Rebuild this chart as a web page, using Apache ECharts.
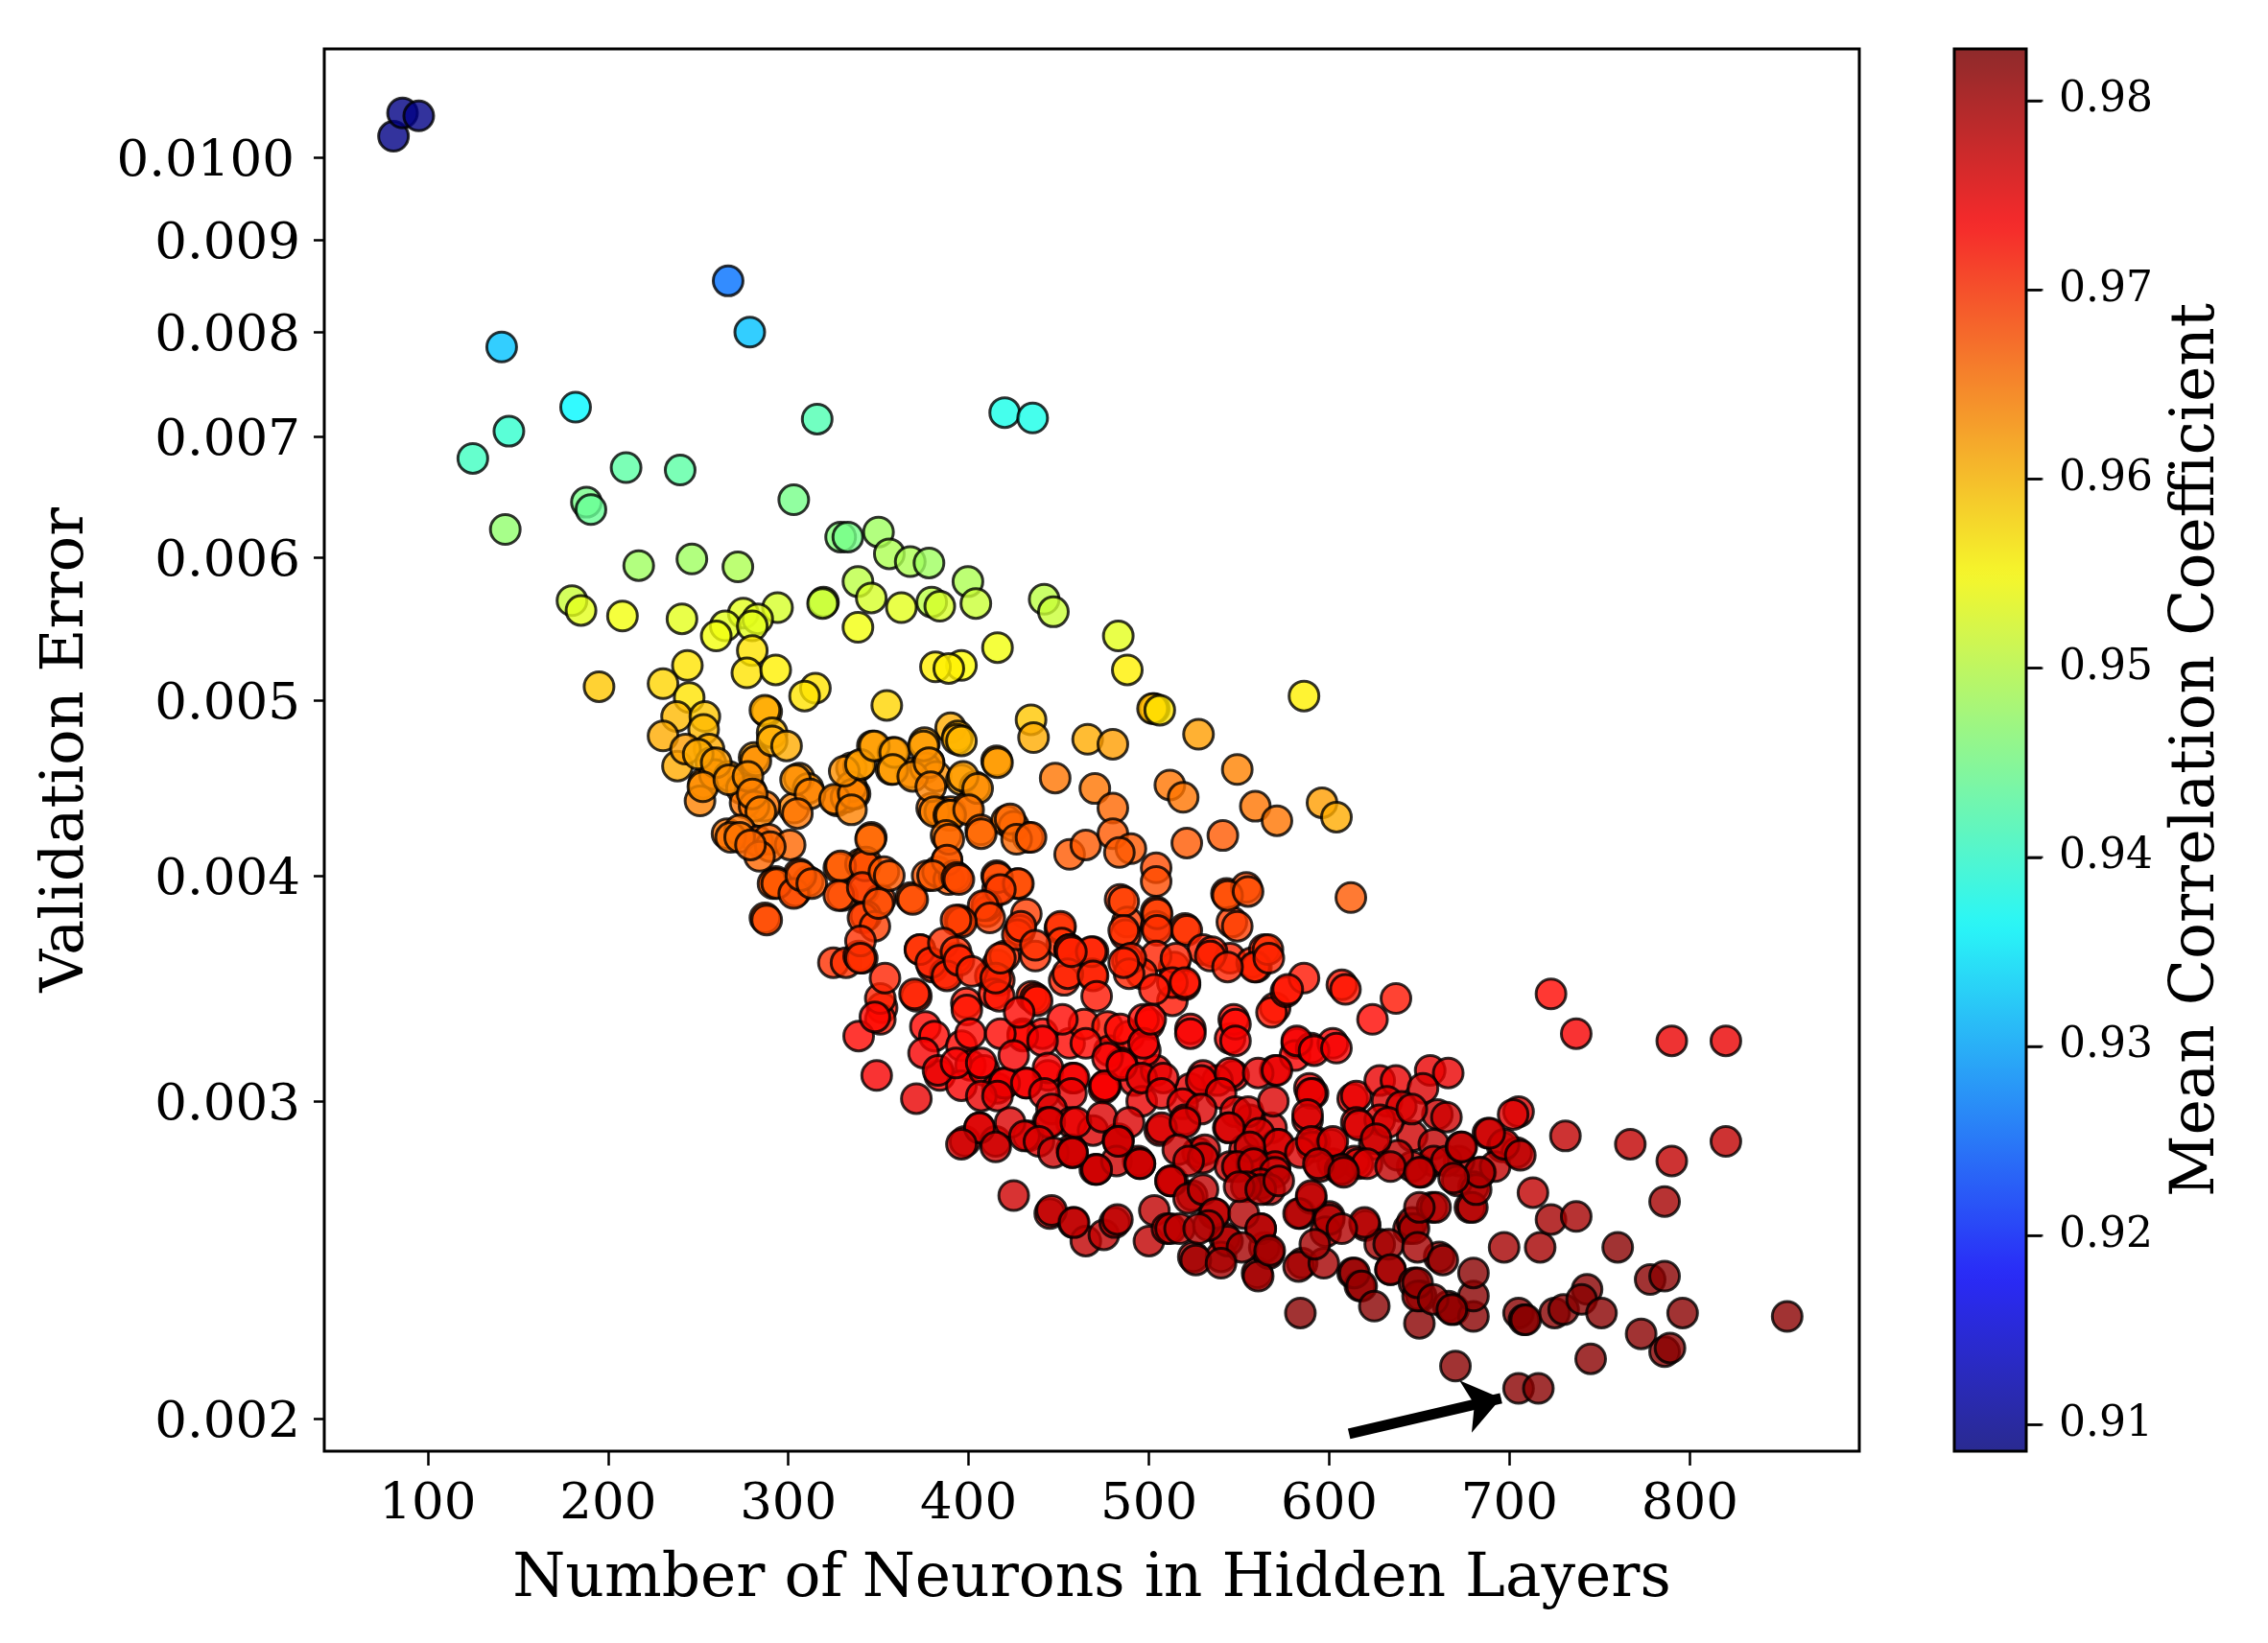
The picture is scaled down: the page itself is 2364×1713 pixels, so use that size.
<!DOCTYPE html>
<html><head><meta charset="utf-8">
<style>html,body{margin:0;padding:0;background:#fff}#c{width:2364px;height:1713px}</style>
<script src="https://cdn.jsdelivr.net/npm/echarts@6/dist/echarts.min.js"></script>
</head><body><div id="c"></div>
<script>
// every point: [neurons, validation error x 1000, mean correlation coefficient]
const sparseTop = [[81,10.27,.909],[86,10.58,.909],[95,10.54,.909],[266.6,8.54,.926],[278.6,8.0,.932],[141,7.85,.932],[182,7.27,.936],[420,7.22,.938],[435.5,7.17,.938],[316,7.16,.942],[145,7.05,.940],[125,6.81,.941],[210,6.73,.943],[240,6.71,.943],[303,6.46,.945],[188,6.44,.945],[190.5,6.38,.944],[143,6.22,.947],[329,6.16,.946],[333,6.16,.945],[350,6.2,.948],[356,6.03,.949],[367.6,5.97,.949],[378,5.96,.948],[217,5.94,.948],[246.5,5.99,.948],[272,5.93,.949],[399.6,5.82,.949],[338.6,5.82,.95]];
const greenYellow = [[346,5.70,.952],[379.5,5.67,.95],[384,5.64,.952],[362.7,5.63,.953],[404,5.66,.951],[319.5,5.67,.951],[319,5.66,.951],[441.9,5.69,.95],[447,5.6,.951],[180,5.68,.951],[185,5.61,.953],[208,5.57,.954],[241,5.55,.953],[294,5.63,.952],[275,5.59,.953],[283,5.55,.953],[265,5.5,.953],[260,5.43,.954],[280,5.5,.953],[338.6,5.49,.954],[483,5.43,.953],[416,5.35,.954],[396,5.23,.955],[488,5.2,.956],[381.6,5.22,.956],[389,5.21,.956]];
const yellowBand = [[244,5.23,.957],[280,5.33,.957],[277,5.18,.957],[293,5.2,.956],[195,5.09,.959],[230.5,5.11,.958],[245,5.02,.957],[238,4.9,.96],[253.7,4.9,.959],[253,4.82,.96],[230.5,4.78,.961],[256,4.7,.961],[238.5,4.6,.961],[315,5.08,.957],[309,5.03,.957],[586,5.03,.956],[503,4.95,.96],[502,4.95,.96],[506,4.94,.957],[354.6,4.97,.958],[288,4.93,.961],[287,4.94,.961],[291,4.8,.96],[390,4.83,.961],[394,4.78,.961],[434.6,4.88,.959],[436,4.77,.961],[466,4.76,.961],[480,4.73,.962],[527.5,4.79,.962]];
const amberBand = [[281,4.65,.962],[346.6,4.72,.962],[358,4.68,.962],[375.5,4.74,.962],[378,4.62,.962],[335,4.59,.963],[339,4.6,.962],[415.5,4.63,.963],[368,4.56,.963],[357,4.58,.963],[376,4.59,.963],[382,4.54,.963],[396,4.52,.962],[403.5,4.48,.964],[306,4.53,.963],[311,4.47,.963],[303,4.36,.964],[448,4.53,.965],[470,4.47,.965],[511.6,4.49,.965],[519,4.42,.965],[549,4.58,.964],[559,4.37,.965],[571,4.29,.965],[596,4.39,.962],[604,4.31,.961],[480,4.36,.966],[327,4.4,.964],[332,4.42,.964],[337,4.44,.964],[335,4.48,.963],[379.5,4.36,.965],[384,4.34,.965],[390,4.34,.965],[399,4.36,.965],[287,4.37,.965],[243,4.7,.962],[257,4.62,.963],[253,4.5,.964],[259,4.55,.964],[267,4.54,.963],[251,4.4,.964],[274,4.47,.964],[279,4.46,.965],[276,4.39,.965],[281,4.37,.965]];
const amberExtra = [[250,4.67,.961],[260,4.62,.962],[252.6,4.48,.963],[267,4.52,.963],[282,4.63,.963],[277.6,4.54,.963],[280,4.44,.964],[284.7,4.34,.964],[291,4.75,.961],[299,4.72,.961],[304,4.52,.963],[312,4.44,.964],[305,4.33,.965],[325.6,4.41,.964],[336,4.44,.964],[335,4.35,.964],[331,4.57,.963],[340,4.61,.962],[347.7,4.72,.962],[359,4.68,.962],[358,4.58,.962],[369,4.54,.963],[375,4.72,.962],[378,4.62,.963],[379,4.48,.964],[381,4.34,.964],[389,4.32,.964],[393.5,4.76,.961],[396,4.75,.96],[416,4.62,.962],[397,4.54,.962],[405,4.47,.963],[390,4.32,.964],[400,4.35,.965]];
const orangeBand = [[266,4.22,.965],[273,4.24,.965],[283,4.18,.966],[289,4.19,.966],[301,4.16,.966],[293,3.97,.967],[291.5,3.96,.967],[304,3.92,.967],[311,3.97,.967],[306,4.01,.967],[287,3.79,.968],[328,4.04,.966],[346,4.2,.966],[340,4.06,.966],[343,4.07,.966],[330,3.9,.967],[342,3.93,.967],[351,3.88,.968],[343,3.8,.968],[368,3.89,.967],[377,4.0,.967],[382.8,4.02,.967],[388,4.08,.966],[387.5,4.21,.965],[389,3.98,.967],[392,4.0,.967],[406.7,4.24,.966],[421,4.29,.965],[425,4.26,.966],[433,4.2,.966],[456,4.11,.967],[465,4.16,.967],[480,4.22,.967],[490,4.14,.967],[483.6,4.12,.967],[504,4.04,.968],[504,3.97,.968],[521,4.17,.967],[541,4.21,.967],[543,3.91,.968],[554,3.94,.968],[612,3.89,.967],[415.5,4.0,.968],[416,3.93,.969],[427,3.96,.968],[484,3.88,.969],[488,3.77,.969],[504,3.82,.969],[504,3.75,.970],[487,3.71,.970],[520,3.74,.969],[546,3.77,.969],[395,3.78,.969],[410,3.82,.969],[410,3.85,.969]];
const orangeExtra = [[268,4.2,.965],[273,4.2,.965],[290,4.15,.966],[284,4.1,.966],[279,4.16,.966],[293.6,3.96,.967],[303,3.91,.968],[307,4.0,.967],[313,3.96,.967],[288,3.78,.968],[329,4.05,.967],[328,3.9,.968],[342.5,4.05,.968],[341,3.94,.969],[345.6,4.19,.966],[353,4.02,.967],[356,4.0,.967],[369,3.88,.968],[341.4,3.79,.969],[348,3.75,.969],[350,3.86,.968],[389,4.19,.966],[388,4.08,.967],[380,4.0,.967],[393.5,3.99,.968],[407,4.22,.966],[423,4.3,.966],[426.6,4.19,.966],[434.6,4.2,.967],[394.6,3.98,.968],[416,3.99,.968],[427.6,3.96,.968],[417.6,3.93,.969],[408,3.85,.969],[411.7,3.79,.969],[396,3.77,.969],[432,3.81,.969],[428.4,3.73,.969],[486,3.87,.969],[486,3.73,.97],[504.6,3.81,.969],[504.6,3.73,.97],[521,3.73,.97],[549,3.75,.969],[543.6,3.9,.968],[555,3.92,.968],[450.6,3.74,.97],[393,3.78,.969]];
const redOrange = [[325,3.58,.970],[332,3.58,.970],[339,3.61,.970],[341,3.6,.970],[352,3.38,.972],[351,3.33,.972],[371,3.43,.971],[370,3.44,.971],[373,3.64,.970],[380,3.56,.971],[387,3.53,.971],[393,3.6,.970],[398.7,3.4,.972],[412,3.52,.971],[416,3.57,.971],[420,3.61,.970],[427,3.71,.970],[429,3.75,.970],[417,3.5,.971],[414,3.44,.972],[435,3.43,.971],[437,3.61,.970],[451,3.75,.970],[451.6,3.67,.970],[456,3.64,.971],[469,3.63,.971],[468.5,3.53,.972],[453,3.5,.971],[513,3.41,.972],[514,3.56,.971],[520,3.48,.972],[504,3.61,.971],[496,3.53,.971],[488,3.59,.971],[530,3.64,.971],[545,3.6,.971],[557,3.58,.971],[564,3.64,.971],[559.6,3.56,.971],[570,3.38,.972],[568,3.36,.972],[576,3.45,.972],[586,3.51,.972],[607,3.48,.972],[609,3.46,.972],[637,3.42,.972],[624,3.33,.973]];
const redOrangeExtra = [[340,3.68,.970],[340,3.6,.970],[373,3.64,.970],[379,3.58,.971],[386,3.67,.970],[393,3.63,.970],[437,3.66,.970],[456,3.64,.971],[468,3.63,.971],[535,3.63,.971],[558.6,3.56,.971],[566,3.64,.970],[515,3.6,.971],[490,3.6,.971],[351,3.42,.971],[353.6,3.51,.971],[388,3.52,.971],[394.6,3.59,.971],[401.7,3.54,.971],[417,3.43,.972],[415,3.51,.971],[417.6,3.6,.970],[437,3.42,.972],[438,3.41,.972],[455,3.53,.971],[457,3.63,.971],[469,3.52,.971],[471,3.43,.972],[489,3.53,.971],[486,3.58,.971],[534,3.61,.971],[543.6,3.56,.971],[566.5,3.6,.971],[577,3.46,.972],[513,3.49,.972],[520,3.49,.972],[503,3.46,.972]];
const pureRed = [[339,3.26,.973],[349,3.1,.974],[371,3.01,.975],[376,3.3,.973],[381,3.26,.973],[384,3.1,.974],[396,3.22,.973],[401,3.14,.974],[396,3.06,.974],[408.6,3.12,.974],[416,3.05,.975],[419.6,3.07,.975],[430,3.27,.973],[441,3.27,.973],[456,3.23,.973],[464,3.31,.972],[477,3.3,.972],[478,3.2,.973],[489,3.26,.973],[500,3.31,.972],[444,3.1,.974],[457.6,3.09,.975],[476,3.06,.974],[475,3.05,.974],[492,3.08,.975],[504,3.12,.975],[498,3.2,.974],[485,3.15,.974],[432,3.07,.975],[523,3.29,.973],[545,3.25,.973],[547,3.33,.973],[547,3.1,.975],[538,3.08,.975],[523,3.05,.975],[530,3.1,.975],[570,3.12,.974],[582,3.23,.974],[581,3.18,.974],[590,3.21,.974],[589,3.05,.975],[591,3.03,.975],[602,3.23,.974],[613,3.01,.975],[615,3.02,.975],[628,3.08,.975],[637,3.08,.975],[656,3.12,.975],[666,3.11,.975],[652,3.05,.976],[723,3.44,.973],[737,3.27,.974],[790,3.24,.975],[820,3.24,.975]];
const pureRedExtra = [[348,3.34,.973],[375,3.19,.974],[383,3.12,.975],[399,3.37,.972],[401,3.27,.973],[393,3.15,.974],[407,3.15,.974],[452,3.33,.973],[484,3.29,.973],[497,3.33,.973],[430,3.26,.973],[441,3.24,.974],[417.6,3.27,.973],[428,3.36,.973],[465,3.23,.973],[477,3.17,.974],[497,3.23,.974],[444,3.13,.974],[458.5,3.09,.974],[475.6,3.06,.974],[420,3.07,.974],[432,3.07,.974],[425,3.18,.974],[485,3.14,.974],[496,3.0,.975],[457,3.03,.975],[442,3.03,.975],[407,3.02,.975],[416,3.02,.975],[501,3.33,.973],[523,3.27,.974],[548,3.31,.973],[548,3.24,.974],[582,3.24,.974],[591.6,3.2,.974],[604,3.21,.974],[529,3.08,.975],[545,3.11,.975],[560.6,3.11,.975],[571,3.12,.975],[590,3.03,.975],[496,3.09,.975],[508,3.09,.975],[507,3.03,.975],[540,3.03,.975],[518.7,2.99,.975]];
const crimson = [[398,2.85,.976],[406,2.9,.976],[415,2.85,.976],[425,2.66,.977],[446,2.97,.976],[457,2.92,.976],[469,2.89,.976],[444,2.92,.976],[433,2.87,.976],[457,2.82,.976],[471,2.75,.977],[483,2.86,.976],[494,2.78,.977],[506,2.89,.976],[445,2.6,.977],[458,2.57,.978],[465,2.51,.978],[475,2.53,.978],[481,2.57,.978],[500,2.51,.978],[503,2.61,.978],[512,2.71,.977],[510,2.55,.978],[524,2.66,.978],[527,2.81,.977],[531,2.82,.977],[520,2.93,.976],[632,3.0,.976],[640,2.98,.976],[660,2.95,.977],[615,2.92,.976],[628,2.93,.976],[646,2.87,.977],[625,2.84,.976],[614,2.78,.977],[616,2.77,.976],[602,2.77,.977],[592,2.85,.976],[588,2.93,.976],[568,2.9,.976],[556,2.93,.976],[548,2.96,.976],[544,2.9,.977],[553,2.82,.977],[557,2.78,.977],[571,2.84,.977],[549.6,2.76,.977],[705,2.96,.976],[702,2.95,.976],[688,2.88,.977],[696,2.83,.978],[704,2.81,.978],[684,2.74,.978],[680,2.69,.978],[692,2.76,.978],[672,2.78,.978],[658,2.84,.978],[658,2.78,.978],[646,2.76,.978],[638,2.8,.978],[767,2.84,.978],[731,2.87,.978],[820,2.85,.978],[790,2.78,.978]];
const crimsonExtra = [[406,2.9,.976],[423,2.92,.976],[445,2.92,.976],[459.5,2.92,.975],[474,2.94,.976],[489,2.92,.976],[396,2.84,.977],[415,2.83,.977],[431,2.87,.976],[439,2.85,.976],[483,2.85,.976],[447,2.81,.977],[457.6,2.81,.976],[470,2.75,.977],[482,2.78,.977],[495,2.77,.977],[529,2.97,.976],[555,2.96,.976],[569,3.0,.976],[588,2.95,.976],[507,2.9,.976],[520,2.92,.976],[544.6,2.9,.976],[561,2.88,.976],[572,2.84,.976],[590.6,2.83,.977],[601,2.84,.977],[616.5,2.91,.976],[632.6,2.92,.976],[645.8,2.97,.976],[665,2.94,.977],[626,2.86,.977],[513,2.71,.977],[516,2.82,.977],[530,2.79,.977],[545,2.76,.977],[557,2.77,.977],[556,2.83,.977],[570,2.76,.977],[584,2.81,.976],[595,2.76,.977],[606,2.75,.977],[621,2.77,.976],[634,2.76,.978],[651,2.74,.978],[665,2.78,.978],[673,2.83,.978],[671,2.71,.978],[522,2.78,.977],[549,2.76,.977],[558,2.77,.977],[570,2.74,.977],[471,2.75,.977],[495,2.77,.977],[457.6,2.81,.977],[483,2.85,.977],[697,2.84,.977],[706,2.8,.978],[689,2.88,.977],[673.5,2.83,.978],[650,2.74,.978],[590,2.85,.976],[602,2.85,.976],[607,2.75,.977],[594,2.77,.977]];
const darkRed = [[524.6,2.46,.98],[562,2.7,.978],[567,2.68,.978],[536,2.6,.978],[542,2.52,.978],[540,2.46,.978],[560,2.41,.98],[564,2.49,.978],[562,2.55,.978],[554,2.69,.978],[584,2.6,.978],[585,2.44,.98],[583,2.43,.98],[600,2.59,.978],[598,2.54,.978],[590,2.65,.978],[608,2.74,.978],[620,2.56,.978],[628,2.5,.98],[634,2.42,.98],[613,2.41,.98],[617,2.37,.98],[644,2.55,.98],[646,2.57,.98],[657,2.62,.978],[661,2.46,.98],[678,2.62,.978],[713,2.67,.978],[697,2.49,.98],[717,2.49,.98],[723,2.58,.98],[737,2.59,.98],[786,2.64,.98],[760,2.49,.982]];
const darkRedExtra = [[512,2.55,.978],[517,2.55,.978],[512,2.71,.977],[522,2.65,.978],[530,2.68,.978],[536.6,2.6,.978],[552.6,2.6,.979],[562,2.55,.979],[566.5,2.47,.98],[543.6,2.51,.979],[551.6,2.49,.98],[526,2.45,.98],[540,2.44,.98],[560.6,2.4,.98],[533,2.56,.979],[527.6,2.55,.979],[550,2.69,.978],[562,2.68,.979],[572,2.71,.978],[647,2.55,.98],[633,2.5,.98],[649,2.49,.98],[663,2.45,.981],[634,2.42,.98],[614,2.41,.981],[618,2.37,.981],[597,2.44,.98],[583,2.6,.979],[600,2.58,.979],[590,2.66,.978],[619.6,2.57,.979],[607,2.55,.979],[592,2.5,.98],[567,2.48,.98],[679.4,2.62,.979],[681.5,2.68,.979],[683.6,2.74,.979],[669,2.72,.979],[659,2.62,.979],[650,2.62,.98],[482.5,2.58,.978],[446,2.61,.978],[458.5,2.57,.978]];
const bottomTail = [[584,2.29,.982],[625,2.31,.982],[650,2.26,.982],[647,2.38,.982],[651,2.34,.982],[666,2.31,.982],[669,2.3,.982],[680,2.28,.982],[680,2.34,.982],[680,2.41,.982],[670,2.14,.982],[705,2.08,.982],[716,2.08,.982],[705,2.29,.982],[708,2.27,.982],[709,2.27,.982],[725,2.29,.982],[730,2.3,.982],[743,2.36,.982],[740,2.33,.982],[751,2.29,.982],[745,2.16,.982],[778,2.39,.982],[786,2.4,.982],[796,2.29,.982],[854,2.28,.982],[773,2.23,.982],[786,2.18,.982],[789,2.19,.982],[649,2.34,.981],[649,2.38,.981],[657.6,2.33,.981],[668,2.3,.981]];
const pointGroups = [sparseTop, greenYellow, yellowBand, amberBand, amberExtra, orangeBand, orangeExtra, redOrange, redOrangeExtra, pureRed, pureRedExtra, crimson, crimsonExtra, darkRed, darkRedExtra, bottomTail];

const xTicks = [100, 200, 300, 400, 500, 600, 700, 800];
const yTicks = [0.002, 0.003, 0.004, 0.005, 0.006, 0.007, 0.008, 0.009, 0.01];
const yTickLabels = ['0.002', '0.003', '0.004', '0.005', '0.006', '0.007', '0.008', '0.009', '0.0100'];
const cTicks = [0.91, 0.92, 0.93, 0.94, 0.95, 0.96, 0.97, 0.98];
const jet = ['#00007f', '#0000ff', '#007fff', '#00ffff', '#7fff7f', '#ffff00', '#ff7f00', '#ff0000', '#7f0000'];
const arrowTail = [611, 0.001963];
const arrowTip = [695.3, 0.002054];

const hexA = h => 'rgba(' + parseInt(h.slice(1,3),16) + ',' + parseInt(h.slice(3,5),16) + ',' + parseInt(h.slice(5,7),16) + ',0.8)';
const points = pointGroups.flat().map(p => [p[0], p[1] / 1000, p[2]]);
const font = 'DejaVu Serif';
const chart = echarts.init(document.getElementById('c'), null, {renderer: 'canvas'});
chart.setOption({
  backgroundColor: '#fff',
  animation: false,
  grid: [
    {left: 338, top: 51, width: 1600, height: 1462, show: true, borderColor: '#000', borderWidth: 3, backgroundColor: 'transparent', containLabel: false},
    {left: 2037, top: 51, width: 75, height: 1462, show: true, borderColor: '#000', borderWidth: 3, backgroundColor: 'transparent', z: 10}
  ],
  xAxis: [
    {type: 'value', gridIndex: 0, min: 42.6, max: 894,
     name: 'Number of Neurons in Hidden Layers', nameLocation: 'middle', nameGap: 103,
     nameTextStyle: {fontFamily: font, fontSize: 63, color: '#000'},
     axisLine: {show: false}, splitLine: {show: false},
     axisTick: {show: true, length: 15, lineStyle: {color: '#000', width: 2.5}, customValues: xTicks},
     axisLabel: {show: true, customValues: xTicks, fontFamily: font, fontSize: 53, color: '#000', margin: 30, showMinLabel: true, showMaxLabel: true}},
    {type: 'value', gridIndex: 1, min: 0, max: 1, show: false}
  ],
  yAxis: [
    {type: 'log', gridIndex: 0, min: 0.00192, max: 0.01148, logBase: 10,
     name: 'Validation Error', nameLocation: 'middle', nameGap: 237,
     nameTextStyle: {fontFamily: font, fontSize: 62, color: '#000'},
     axisLine: {show: false}, splitLine: {show: false}, minorTick: {show: false},
     axisTick: {show: true, length: 11, lineStyle: {color: '#000', width: 2.5}, customValues: yTicks},
     axisLabel: {show: true, customValues: yTicks, fontFamily: font, fontSize: 53, color: '#000', margin: 25, padding: [10, 0, 0, 0],
       rich: {big: {fontFamily: font, fontSize: 53, color: '#000', padding: [0, 6, 0, 0]}},
       formatter: v => { const i = yTicks.findIndex(t => Math.abs(t - v) < 1e-6); if (i < 0) return ''; const s = yTickLabels[i]; return s.length > 5 ? '{big|' + s + '}' : s; }}},
    {type: 'value', gridIndex: 1, position: 'right', min: 0.9086, max: 0.98274,
     name: 'Mean Correlation Coefficient', nameLocation: 'middle', nameGap: 147, nameRotate: 90,
     nameTextStyle: {fontFamily: font, fontSize: 63, color: '#000'},
     axisLine: {show: false, onZero: false}, splitLine: {show: false},
     axisTick: {show: true, length: 16, lineStyle: {color: '#000', width: 2.5}, customValues: cTicks},
     axisLabel: {show: true, customValues: cTicks, fontFamily: font, fontSize: 44, color: '#000', margin: 34, padding: [10, 0, 0, 0], formatter: v => v.toFixed(2)}}
  ],
  visualMap: [{
    type: 'continuous', seriesIndex: 0, dimension: 2, min: 0.9086, max: 0.98274,
    show: true, calculable: false, realtime: false, left: 2037, top: 51, itemWidth: 75, itemHeight: 1462,
    text: null, showLabel: false, padding: 0, borderWidth: 0,
    inRange: {color: jet.map(hexA)}, textStyle: {color: 'transparent', fontSize: 1}, formatter: () => ''
  }],
  series: [
    {type: 'scatter', xAxisIndex: 0, yAxisIndex: 0, data: points, symbol: 'circle', symbolSize: 31,
     itemStyle: {borderColor: 'rgba(0,0,0,0.8)', borderWidth: 3, opacity: 1},
     emphasis: {disabled: true}, large: false,
     markLine: {silent: true, animation: false, symbol: ['none', 'arrow'], symbolSize: [42, 38], label: {show: false},
       lineStyle: {color: '#000', width: 11, type: 'solid'},
       data: [[{coord: arrowTail}, {coord: arrowTip}]]}},
    {type: 'scatter', xAxisIndex: 1, yAxisIndex: 1, data: cTicks.map(v => [1, v]), symbol: 'rect', symbolSize: [16, 2.5], symbolOffset: [9.5, 0], clip: false, silent: true,
     itemStyle: {color: '#000'}, z: 20}
  ]
});
</script></body></html>
